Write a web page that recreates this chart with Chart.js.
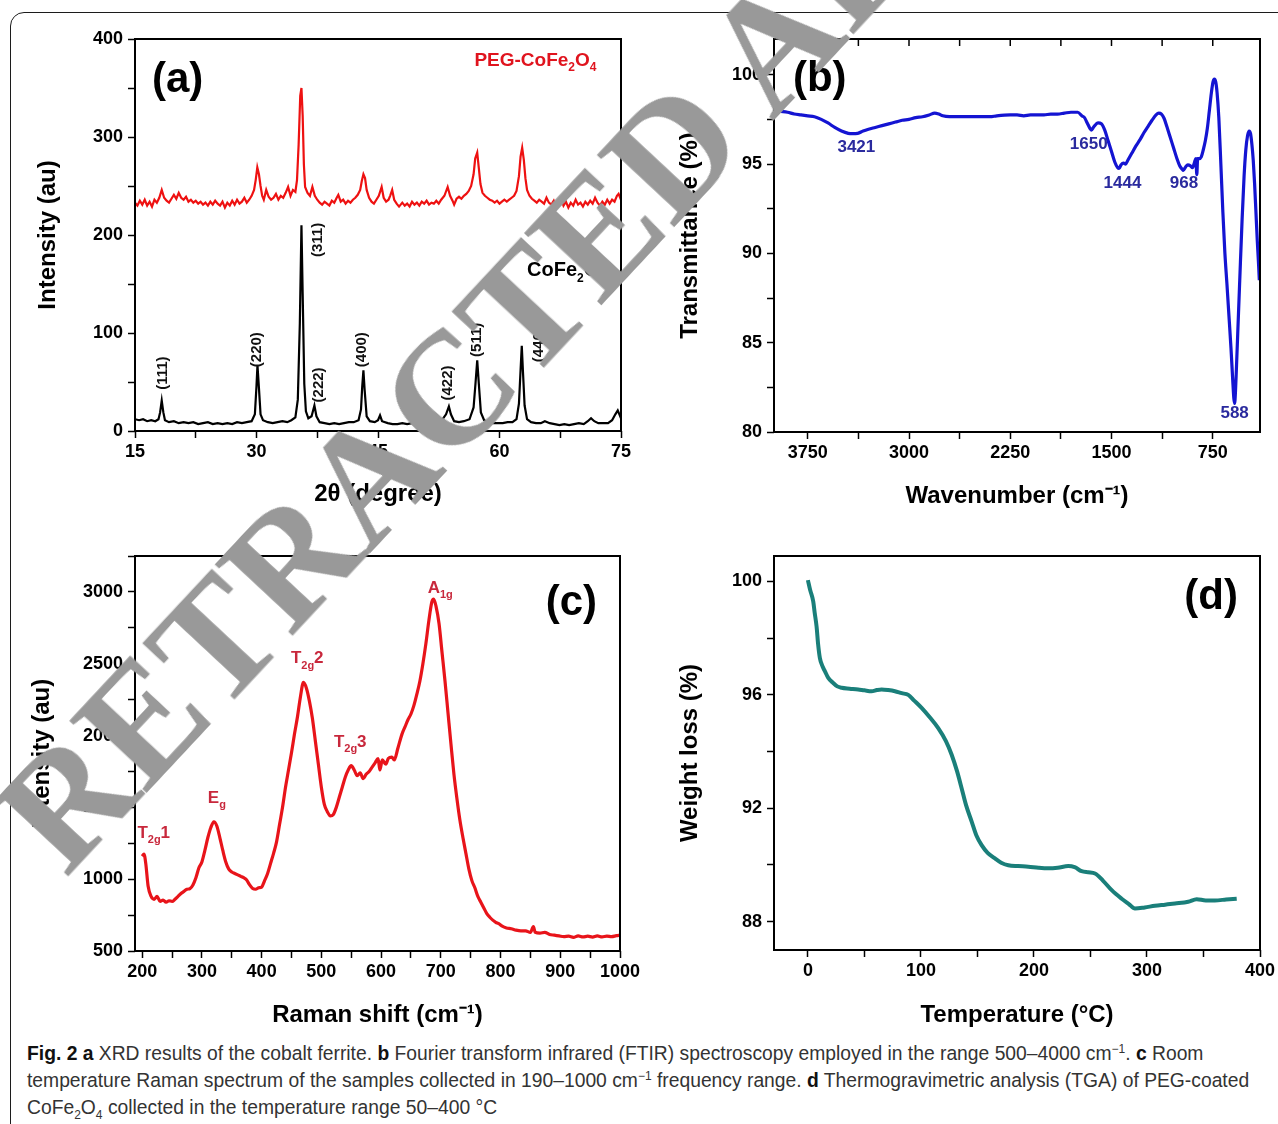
<!DOCTYPE html>
<html lang="en">
<head>
<meta charset="UTF-8">
<title>Fig. 2 - CoFe2O4 characterisation</title>
<script src="https://cdn.jsdelivr.net/npm/chart.js"></script>
<style>
    body {
        margin: 0;
        width: 1278px;
        height: 1124px;
        position: relative;
        overflow: hidden;
        background: #fff;
        font-family: "Liberation Sans", Arial, sans-serif;
    }
    #box {
        position: absolute;
        left: 10px;
        top: 12px;
        width: 1320px;
        height: 1200px;
        border: 1.5px solid #1c1c1c;
        border-radius: 14px;
    }
    canvas { position: absolute; }
    #caption {
        position: absolute;
        left: 27px;
        top: 1040px;
        font-family: "Liberation Sans", Arial, sans-serif;
        font-size: 19.3px;
        line-height: 27px;
        color: #333;
        white-space: nowrap;
    }
    #caption b { color: #111; }
    #caption sup, #caption sub { font-size: 12px; line-height: 0; }
    #stamp {
        position: absolute;
        left: -32px;
        top: 788px;
        font: bold 160px "Liberation Serif", "DejaVu Serif", serif;
        line-height: 1;
        color: #999;
        white-space: nowrap;
        transform-origin: 0 0;
        transform: rotate(-47deg);
        z-index: 10;
    }
</style>
</head>
<body>
<div id="box"></div>
<canvas id="xrd" width="660" height="520" style="left:0;top:0"></canvas>
<canvas id="ftir" width="638" height="520" style="left:640px;top:0"></canvas>
<canvas id="raman" width="660" height="520" style="left:0;top:520px"></canvas>
<canvas id="tga" width="638" height="520" style="left:640px;top:520px"></canvas>

<div id="caption">
    <div><b>Fig. 2 a</b> XRD results of the cobalt ferrite. <b>b</b> Fourier transform infrared (FTIR) spectroscopy employed in the range 500–4000 cm<sup>−1</sup>. <b>c</b> Room</div>
    <div>temperature Raman spectrum of the samples collected in 190–1000 cm<sup>−1</sup> frequency range. <b>d</b> Thermogravimetric analysis (TGA) of PEG-coated</div>
    <div>CoFe<sub>2</sub>O<sub>4</sub> collected in the temperature range 50–400 °C</div>
</div>
<div id="stamp">RETRACTED ARTICLE</div>

<script>
    // ---- (a) XRD: [2theta, intensity]
    const ferriteXrd = [
        [15,12],[15.5,11],[16,12],[16.5,10],[17,11],[17.5,10],[17.9,12],[18.1,19],[18.3,31],[18.5,19],[18.7,11],
        [19.2,9],[19.8,10],[20.4,8],[21,9],[21.6,8],[22.2,9],[22.8,7],[23.4,8],[24,9],[24.6,7],[25.2,8],[25.8,7],
        [26.4,8],[27,7],[27.6,9],[28.2,8],[28.8,9],[29.4,10],[29.8,17],[30.0,46],[30.12,67],[30.3,44],[30.5,17],
        [30.8,11],[31.4,9],[32,8],[32.6,9],[33.2,10],[33.8,9],[34.3,11],[34.8,14],[35.1,32],[35.35,110],[35.55,210],
        [35.7,140],[35.9,48],[36.1,20],[36.4,13],[36.8,15],[37.15,26],[37.4,15],[37.8,9],[38.4,8],[39,7],[39.6,8],
        [40.2,7],[40.8,8],[41.4,9],[42,9],[42.6,11],[42.9,22],[43.05,45],[43.2,62],[43.35,42],[43.6,15],[44,10],
        [44.6,9],[45.0,11],[45.25,16],[45.5,10],[46.2,8],[46.8,7],[47.4,7],[48,8],[48.6,7],[49.2,8],[49.8,7],
        [50.4,8],[51,7],[51.6,8],[52.2,8],[52.8,10],[53.4,17],[53.75,25],[54,17],[54.4,10],[55,9],[55.6,10],
        [56.3,12],[56.8,24],[57.05,50],[57.25,72],[57.45,48],[57.7,19],[58.1,11],[58.6,9],[59.2,8],[59.8,8],
        [60.4,8],[61,9],[61.6,9],[62.1,12],[62.4,28],[62.6,62],[62.75,87],[62.9,60],[63.1,26],[63.4,12],[63.9,9],
        [64.5,8],[65.1,8],[65.6,10],[66.2,8],[66.8,7],[67.4,6],[68,7],[68.6,6],[69.2,7],[69.8,8],[70.4,7],[70.9,10],
        [71.3,13],[71.7,10],[72.2,8],[72.8,8],[73.4,8],[73.9,11],[74.3,17],[74.6,21],[75,13]
    ];
    const pegXrd = [
        [15,233],[15.3,230],[15.6,235],[15.9,231],[16.2,236],[16.5,230],[16.8,234],[17.1,229],[17.4,236],[17.7,233],
        [18.0,238],[18.3,246],[18.6,238],[18.9,235],[19.2,233],[19.5,237],[19.8,241],[20.1,237],[20.4,243],[20.7,238],
        [21.0,236],[21.3,239],[21.6,234],[21.9,236],[22.2,233],[22.5,235],[22.8,232],[23.1,234],[23.4,231],[23.7,233],
        [24,230],[24.3,234],[24.6,231],[24.9,235],[25.2,232],[25.5,230],[25.8,234],[26.1,228],[26.4,233],[26.7,230],
        [27,235],[27.3,231],[27.6,236],[27.9,232],[28.2,234],[28.5,238],[28.8,233],[29.1,236],[29.4,240],[29.7,246],
        [29.9,256],[30.1,269],[30.3,262],[30.5,250],[30.7,240],[30.9,236],[31.2,246],[31.5,239],[31.8,236],[32.1,238],
        [32.4,242],[32.7,236],[33.0,240],[33.3,238],[33.6,243],[33.9,249],[34.2,240],[34.5,246],[34.8,244],[35.0,256],
        [35.2,292],[35.4,342],[35.55,350],[35.7,322],[35.85,272],[36.0,249],[36.3,243],[36.6,240],[36.9,249],[37.2,240],
        [37.5,236],[37.8,233],[38.1,231],[38.4,234],[38.7,232],[39.0,230],[39.3,235],[39.6,233],[39.9,238],[40.1,241],
        [40.4,234],[40.7,236],[41.0,232],[41.3,235],[41.6,233],[41.9,236],[42.2,238],[42.5,241],[42.8,246],[43.0,255],
        [43.2,262],[43.4,258],[43.6,246],[43.9,238],[44.2,234],[44.5,232],[44.8,236],[45.1,240],[45.45,249],[45.7,238],
        [46.0,234],[46.3,236],[46.5,240],[46.75,246],[47.0,236],[47.3,232],[47.6,229],[48,233],[48.3,230],[48.6,232],
        [48.9,229],[49.2,234],[49.5,231],[49.8,233],[50.1,230],[50.4,234],[50.7,232],[51.0,235],[51.3,231],[51.6,233],
        [51.9,232],[52.2,235],[52.5,232],[52.8,236],[53.2,240],[53.6,249],[53.9,240],[54.2,235],[54.4,231],[54.7,237],
        [55.0,239],[55.3,237],[55.6,240],[55.9,242],[56.2,245],[56.5,250],[56.8,262],[57.0,278],[57.25,284],[57.45,268],
        [57.65,252],[57.9,243],[58.2,240],[58.5,238],[58.8,236],[59.1,235],[59.4,233],[59.7,235],[60.0,232],[60.3,234],
        [60.6,236],[60.9,234],[61.2,236],[61.5,238],[61.8,240],[62.1,245],[62.4,260],[62.6,280],[62.8,289],[63.0,277],
        [63.2,258],[63.4,246],[63.7,240],[64.0,237],[64.3,235],[64.6,233],[64.9,236],[65.2,234],[65.5,232],[65.8,238],
        [66.1,233],[66.4,231],[66.7,235],[67.0,229],[67.3,233],[67.6,237],[67.9,230],[68.2,234],[68.5,228],[68.8,233],
        [69.1,230],[69.4,236],[69.7,231],[70.0,233],[70.3,229],[70.6,234],[70.9,231],[71.2,235],[71.5,232],[71.8,238],
        [72.1,233],[72.4,230],[72.7,234],[73.0,231],[73.3,236],[73.6,232],[73.9,236],[74.2,234],[74.5,240],[74.7,242],[75,236]
    ];

    // ---- (b) FTIR: [wavenumber, transmittance %]
    const ftir = [
        [4000,98.0],[3950,97.95],[3900,97.9],[3850,97.8],[3800,97.75],[3750,97.7],[3700,97.65],[3650,97.5],[3600,97.3],
        [3550,97.05],[3500,96.85],[3450,96.72],[3421,96.7],[3380,96.72],[3340,96.85],[3300,96.95],[3250,97.05],
        [3200,97.15],[3150,97.25],[3100,97.35],[3050,97.45],[3000,97.5],[2950,97.6],[2900,97.65],[2850,97.75],
        [2810,97.85],[2780,97.8],[2750,97.7],[2700,97.65],[2600,97.65],[2500,97.65],[2400,97.65],[2350,97.7],
        [2250,97.75],[2200,97.75],[2150,97.7],[2100,97.75],[2000,97.75],[1950,97.8],[1900,97.8],[1850,97.85],
        [1800,97.9],[1750,97.9],[1720,97.7],[1700,97.6],[1680,97.3],[1660,97.0],[1650,96.9],[1630,97.1],[1600,97.3],
        [1575,97.25],[1550,96.9],[1525,96.3],[1500,95.7],[1475,95.1],[1455,94.8],[1444,94.75],[1430,94.95],[1410,95.05],
        [1395,95.0],[1380,95.2],[1350,95.6],[1320,96.0],[1290,96.35],[1260,96.75],[1230,97.1],[1200,97.45],[1170,97.75],
        [1150,97.85],[1130,97.8],[1110,97.55],[1090,97.1],[1065,96.5],[1040,95.9],[1015,95.3],[995,94.9],[975,94.7],
        [968,94.65],[950,94.85],[935,94.95],[915,94.9],[900,94.8],[885,95.1],[875,95.3],[868,94.4],[862,95.3],[850,95.3],
        [835,95.4],[820,95.8],[805,96.3],[790,97.0],[775,98.0],[760,99.0],[748,99.6],[738,99.75],[728,99.6],[718,99.0],
        [705,97.6],[690,95.0],[675,92.3],[660,90.0],[645,88.3],[630,86.5],[615,84.7],[602,82.9],[594,81.9],[588,81.6],
        [582,82.2],[575,83.5],[565,85.5],[555,87.5],[545,89.5],[532,92.0],[518,94.3],[505,95.8],[492,96.6],[480,96.85],
        [470,96.7],[460,96.1],[450,95.2],[440,93.9],[430,92.3],[420,90.7],[410,89.3],[405,88.5]
    ];

    // ---- (c) Raman: [shift cm-1, intensity]
    const raman = [
        [200,1160],[203,1175],[206,1110],[210,950],[215,880],[220,860],[225,880],[230,845],[235,855],[240,840],[245,850],
        [250,845],[255,860],[260,880],[265,900],[270,915],[275,930],[280,935],[285,960],[290,1010],[295,1080],[300,1120],
        [305,1200],[310,1290],[315,1360],[320,1400],[325,1370],[330,1290],[335,1200],[340,1120],[345,1070],[350,1050],
        [355,1040],[360,1030],[365,1020],[370,1010],[375,995],[380,960],[385,935],[390,930],[395,940],[400,945],[405,990],
        [410,1040],[415,1110],[420,1180],[425,1260],[430,1380],[435,1500],[440,1640],[445,1760],[450,1880],[455,2010],
        [460,2130],[465,2270],[470,2370],[475,2330],[480,2240],[485,2120],[490,1960],[495,1800],[500,1640],[505,1520],
        [510,1470],[515,1440],[520,1450],[525,1500],[530,1570],[535,1640],[540,1710],[545,1760],[550,1790],[555,1760],
        [560,1720],[565,1740],[570,1700],[575,1730],[580,1750],[585,1780],[590,1810],[595,1840],[598,1760],[602,1830],
        [608,1800],[612,1840],[618,1850],[622,1830],[628,1910],[635,2010],[640,2060],[645,2110],[650,2150],[655,2210],
        [660,2290],[665,2380],[670,2500],[675,2640],[680,2800],[685,2930],[688,2950],[692,2900],[697,2780],[702,2580],
        [707,2380],[712,2160],[717,1940],[722,1730],[727,1560],[732,1410],[737,1290],[742,1180],[747,1070],[752,990],
        [757,940],[762,880],[767,840],[772,800],[777,760],[782,735],[787,715],[792,700],[797,690],[802,675],[810,660],
        [818,655],[826,645],[834,640],[842,640],[850,630],[855,670],[858,630],[866,625],[874,630],[882,615],[890,610],
        [898,605],[906,600],[914,603],[922,595],[930,605],[938,598],[946,603],[954,597],[962,605],[970,598],[978,604],
        [986,600],[994,607],[1000,610]
    ];

    // ---- (d) TGA: [temperature C, weight %]
    const tga = [
        [0,100.05],[2,99.7],[4.7,99.3],[6,98.9],[7.7,98.4],[9,97.8],[10.6,97.3],[13,97.0],[15,96.84],[18,96.6],
        [22.4,96.42],[26,96.3],[29.8,96.25],[37,96.22],[44.5,96.19],[50,96.16],[56.3,96.13],[61,96.17],[65.2,96.19],
        [71,96.17],[77,96.13],[83,96.06],[88.8,96.0],[94,95.8],[100.6,95.54],[108,95.2],[115.3,94.83],[122,94.38],
        [127.2,93.89],[132,93.3],[136,92.71],[140,92.1],[144.9,91.53],[149,91.05],[153.7,90.7],[159,90.43],[165.5,90.23],
        [171,90.08],[177.3,89.99],[186,89.96],[195,89.94],[204,89.9],[212.7,89.88],[221,89.9],[230.4,89.96],[236,89.92],
        [242.2,89.78],[248,89.74],[254,89.7],[261,89.45],[268.8,89.11],[277.6,88.81],[284,88.62],[289.4,88.46],[298,88.5],
        [307,88.56],[316,88.6],[324.8,88.64],[336.5,88.7],[344,88.79],[352,88.75],[360,88.75],[370,88.78],[379.4,88.81]
    ];

    // peak / band labels: [x, y, text]
    const xrdPlanes = [[18.4,59,'(111)'],[30.1,83,'(220)'],[37.6,195,'(311)'],[37.7,47,'(222)'],
                       [43.0,83,'(400)'],[53.6,49,'(422)'],[57.2,93,'(511)'],[64.9,88,'(440)']];
    const ftirBands = [[3390,95.94,'3421'],[1669,96.1,'1650'],[1419,93.9,'1444'],[963,93.9,'968'],[588,81.05,'588']];
    const ramanModes = [[192,1320,'T','2g','1'],[310,1562,'E','g',''],[449,2535,'T','2g','2'],
                        [521,1951,'T','2g','3'],[678,3028,'A','1g','']];

    const SANS = '"Liberation Sans", Arial, sans-serif';
    const tickFont = { family: SANS, size: 18, weight: 'bold' };
    const titleFont = { family: SANS, size: 24, weight: 'bold' };

    function drawRich(ctx, it, px, py) {
        const size = it.size;
        const small = Math.round(size * 0.62);
        const fontOf = k => 'bold ' + (k === 'sub' ? small : size) + 'px ' + SANS;
        let total = 0;
        it.parts.forEach(([t, k]) => { ctx.font = fontOf(k); total += ctx.measureText(t).width; });
        ctx.save();
        ctx.translate(px, py);
        if (it.rotate) ctx.rotate(it.rotate);
        let cx = it.align === 'left' ? 0 : it.align === 'right' ? -total : -total / 2;
        ctx.fillStyle = it.color;
        ctx.textBaseline = 'middle';
        it.parts.forEach(([t, k]) => {
            ctx.font = fontOf(k);
            ctx.fillText(t, cx, k === 'sub' ? size * 0.4 : 0);
            cx += ctx.measureText(t).width;
        });
        ctx.restore();
    }

    // frame + text notes, drawn on top of the data
    function notes(items, topTicks) {
        return {
            id: 'notes',
            afterDatasetsDraw(chart) {
                const { ctx, chartArea: a, scales: { x, y } } = chart;
                ctx.save();
                ctx.strokeStyle = '#000';
                ctx.lineWidth = 2;
                ctx.strokeRect(a.left, a.top, a.right - a.left, a.bottom - a.top);
                if (topTicks) {
                    ctx.lineWidth = 1.5;
                    x.ticks.forEach(t => {
                        const px = x.getPixelForValue(t.value);
                        ctx.beginPath(); ctx.moveTo(px, a.top); ctx.lineTo(px, a.top + 7); ctx.stroke();
                    });
                }
                items.forEach(it => drawRich(ctx, it, x.getPixelForValue(it.x), y.getPixelForValue(it.y)));
                ctx.restore();
            }
        };
    }

    function axis(o) {
        const isX = o.side === 'x';
        return {
            type: 'linear',
            position: isX ? 'bottom' : 'left',
            min: o.min, max: o.max, reverse: !!o.reverse,
            afterFit: s => {
                if (isX) { s.height = o.size; s.paddingLeft = 0; s.paddingRight = 0; }
                else { s.width = o.size; s.paddingTop = 0; s.paddingBottom = 0; }
            },
            border: { display: false },
            grid: { drawOnChartArea: false, drawTicks: true, tickLength: 7, tickColor: '#000', tickWidth: 1.5 },
            ticks: {
                stepSize: o.step, includeBounds: false, autoSkip: false, maxRotation: 0,
                color: '#000', font: tickFont, padding: isX ? 3 : 5,
                callback: v => {
                    const r = (v - o.base) / o.major;
                    return Math.abs(r - Math.round(r)) < 1e-6 ? v : '';
                }
            },
            title: {
                display: true, text: o.title, color: '#000', font: titleFont,
                padding: isX ? { top: 0, bottom: o.tpad } : { top: o.tpad, bottom: 0 }
            }
        };
    }

    function panel(id, cfg) {
        new Chart(document.getElementById(id), {
            type: 'line',
            data: {
                datasets: cfg.series.map(s => ({
                    data: s.points.map(([x, y]) => ({ x, y })),
                    borderColor: s.color,
                    borderWidth: s.width,
                    pointRadius: 0,
                    fill: false,
                    tension: s.smooth ? 0.4 : 0,
                    cubicInterpolationMode: s.smooth ? 'monotone' : 'default'
                }))
            },
            options: {
                responsive: false,
                animation: false,
                devicePixelRatio: 1,
                layout: { padding: cfg.pad },
                plugins: { legend: { display: false }, tooltip: { enabled: false } },
                scales: { x: axis(cfg.x), y: axis(cfg.y) }
            },
            plugins: [notes(cfg.notes, cfg.topTicks)]
        });
    }

    const tag = (x, y, text, align) => ({ x, y, parts: [[text, '']], size: 42, color: '#000', align });

    panel('xrd', {
        pad: { left: 0, top: 39, right: 39, bottom: 0 },
        x: { side: 'x', min: 15, max: 75, step: 7.5, base: 15, major: 15, size: 89, tpad: 11, title: '2θ (degree)' },
        y: { side: 'y', min: 0, max: 400, step: 50, base: 0, major: 100, size: 135, tpad: 34, title: 'Intensity (au)' },
        series: [
            { points: pegXrd, color: '#ee1111', width: 2.2 },
            { points: ferriteXrd, color: '#000', width: 2.2 }
        ],
        notes: [
            tag(17.1, 358, '(a)', 'left'),
            { x: 56.9, y: 378, parts: [['PEG-CoFe', ''], ['2', 'sub'], ['O', ''], ['4', 'sub']], size: 19, color: '#e0141e', align: 'left' },
            { x: 63.4, y: 164, parts: [['CoFe', ''], ['2', 'sub'], ['O', ''], ['4', 'sub']], size: 20, color: '#000', align: 'left' }
        ].concat(xrdPlanes.map(([x, y, t]) => ({ x, y, parts: [[t, '']], size: 15, color: '#111', align: 'center', rotate: -Math.PI / 2 })))
    });

    panel('ftir', {
        pad: { left: 0, top: 39, right: 18, bottom: 0 },
        topTicks: true,
        x: { side: 'x', min: 400, max: 4000, reverse: true, step: 375, base: 0, major: 750, size: 88, tpad: 9, title: 'Wavenumber (cm⁻¹)' },
        y: { side: 'y', min: 80, max: 102, step: 2.5, base: 80, major: 5, size: 134, tpad: 36, title: 'Transmittance (%)' },
        series: [{ points: ftir, color: '#1414d2', width: 3.2, smooth: true }],
        notes: [tag(3860, 99.72, '(b)', 'left')]
            .concat(ftirBands.map(([x, y, t]) => ({ x, y, parts: [[t, '']], size: 17, color: '#2a2a9e', align: 'center' })))
    });

    panel('raman', {
        pad: { left: 0, top: 36, right: 40, bottom: 0 },
        x: { side: 'x', min: 188, max: 1000, step: 50, base: 0, major: 100, size: 89, tpad: 10, title: 'Raman shift (cm⁻¹)' },
        y: { side: 'y', min: 500, max: 3250, step: 250, base: 0, major: 500, size: 135, tpad: 28, title: 'Intensity (au)' },
        series: [{ points: raman, color: '#e8141a', width: 3.2, smooth: true }],
        notes: [tag(961.5, 2917, '(c)', 'right')]
            .concat(ramanModes.map(([x, y, a, b, c]) => ({ x, y, parts: [[a, ''], [b, 'sub'], [c, '']], size: 17, color: '#c8283c', align: 'left' })))
    });

    panel('tga', {
        pad: { left: 0, top: 36, right: 18, bottom: 0 },
        x: { side: 'x', min: -30, max: 400, step: 50, base: 0, major: 100, size: 90, tpad: 10, title: 'Temperature (°C)' },
        y: { side: 'y', min: 87, max: 100.9, step: 2, base: 0, major: 4, size: 134, tpad: 36, title: 'Weight loss (%)' },
        series: [{ points: tga, color: '#1a7f7a', width: 4, smooth: true }],
        notes: [tag(380.5, 99.43, '(d)', 'right')]
    });
</script>
</body>
</html>
